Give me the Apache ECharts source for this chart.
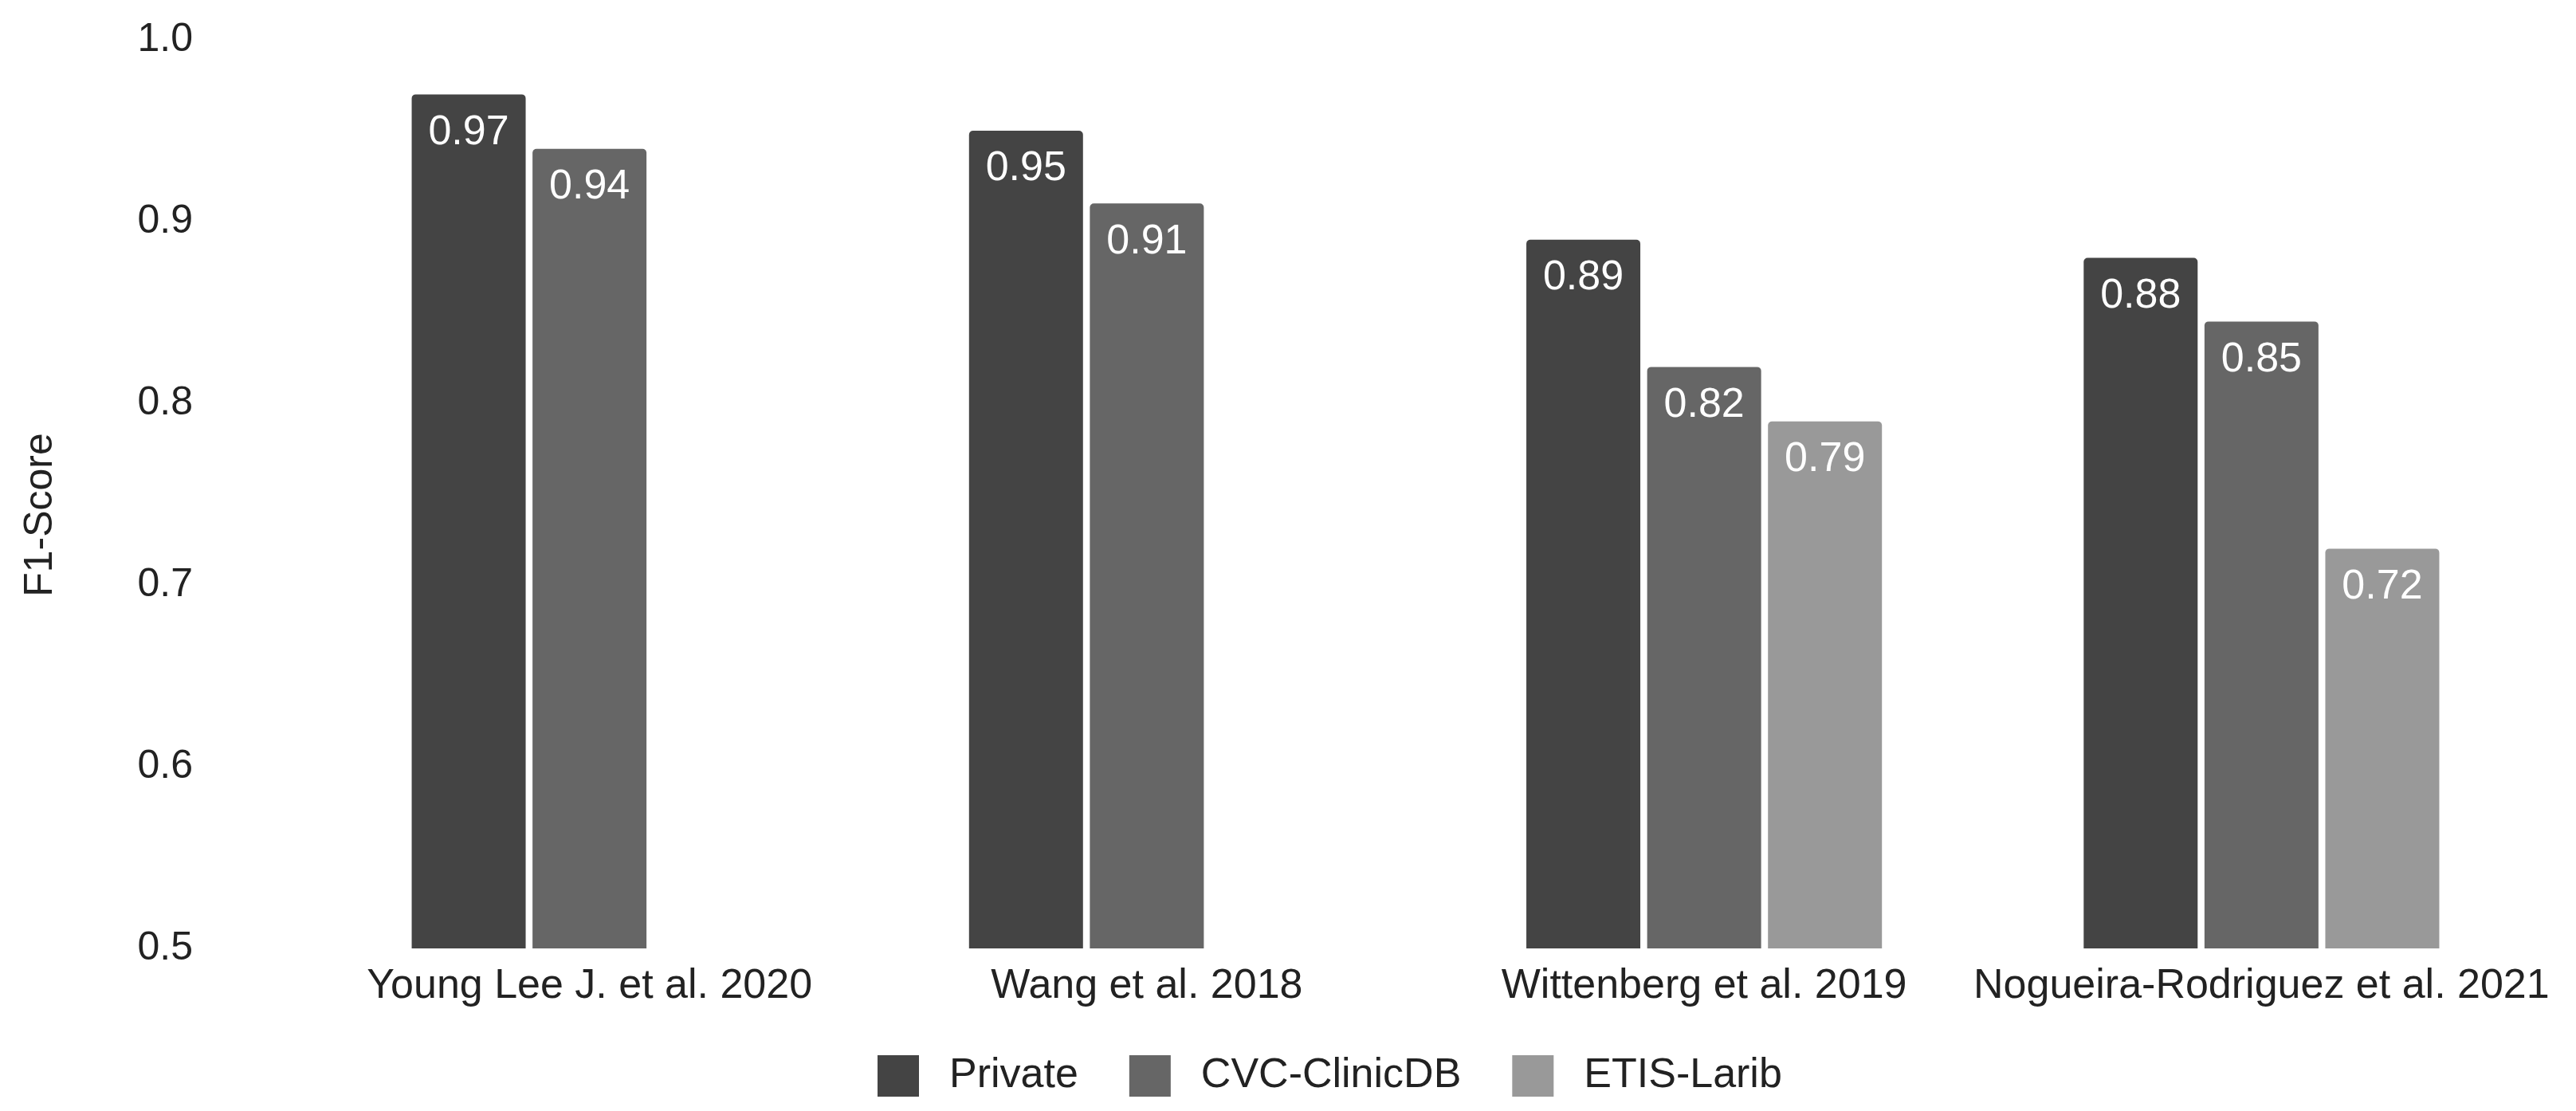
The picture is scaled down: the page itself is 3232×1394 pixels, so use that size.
<!DOCTYPE html>
<html>
<head>
<meta charset="utf-8">
<script src="https://cdn.jsdelivr.net/npm/echarts@6/dist/echarts.min.js"></script>
<style>
html,body{margin:0;padding:0;background:#fff;}
#chart{width:3232px;height:1394px;}
</style>
</head>
<body>
<div id="chart"></div>
<script>
const categories = ['Young Lee J. et al. 2020', 'Wang et al. 2018', 'Wittenberg et al. 2019', 'Nogueira-Rodriguez et al. 2021'];
const seriesNames = ['Private', 'CVC-ClinicDB', 'ETIS-Larib'];
const privateValues = [0.97, 0.95, 0.89, 0.88];
const cvcValues = [0.94, 0.91, 0.82, 0.845];
const etisValues = [null, null, 0.79, 0.72];
const yTicks = { min: 0.5, max: 1.0, interval: 0.1 };
const colors = ['#444444', '#666666', '#999999'];

const FONT = '"Liberation Sans", Arial, sans-serif';
const chart = echarts.init(document.getElementById('chart'), null, { renderer: 'canvas' });

function makeSeries(name, data, color) {
  return {
    name: name,
    type: 'bar',
    data: data,
    barWidth: 143,
    barGap: '6%',
    itemStyle: { color: color, borderRadius: [5, 5, 0, 0] },
    label: {
      show: true,
      position: 'insideTop',
      distance: 22,
      color: '#ffffff',
      fontFamily: FONT,
      fontSize: 52,
      formatter: p => p.value == null ? '' : (p.value + 1e-9).toFixed(2)
    },
    emphasis: { disabled: true }
  };
}

chart.setOption({
  animation: false,
  backgroundColor: '#ffffff',
  grid: { left: 390, right: 45, top: 50, bottom: 204, containLabel: false },
  legend: {
    data: seriesNames,
    left: 1096,
    top: 1319,
    icon: 'rect',
    itemWidth: 52,
    itemHeight: 52,
    itemGap: 64,
    textStyle: { fontFamily: FONT, fontSize: 52, color: '#222222', padding: [0, 0, 0, 33] }
  },
  xAxis: {
    type: 'category',
    data: categories,
    axisLine: { show: false },
    axisTick: { show: false },
    axisLabel: { fontFamily: FONT, fontSize: 52, color: '#222222', margin: 22, interval: 0 },
    splitLine: { show: false }
  },
  yAxis: {
    type: 'value',
    min: yTicks.min,
    max: yTicks.max,
    interval: yTicks.interval,
    name: 'F1-Score',
    nameLocation: 'middle',
    nameGap: 314,
    nameRotate: 90,
    nameTextStyle: { fontFamily: FONT, fontSize: 50, color: '#222222', padding: [0, 52, 0, 0] },
    axisLine: { show: false },
    axisTick: { show: false },
    splitLine: { show: false },
    axisLabel: { fontFamily: FONT, fontSize: 50, color: '#222222', margin: 148, formatter: v => v.toFixed(1) }
  },
  series: [
    makeSeries(seriesNames[0], privateValues, colors[0]),
    makeSeries(seriesNames[1], cvcValues, colors[1]),
    makeSeries(seriesNames[2], etisValues, colors[2])
  ]
});
</script>
</body>
</html>
